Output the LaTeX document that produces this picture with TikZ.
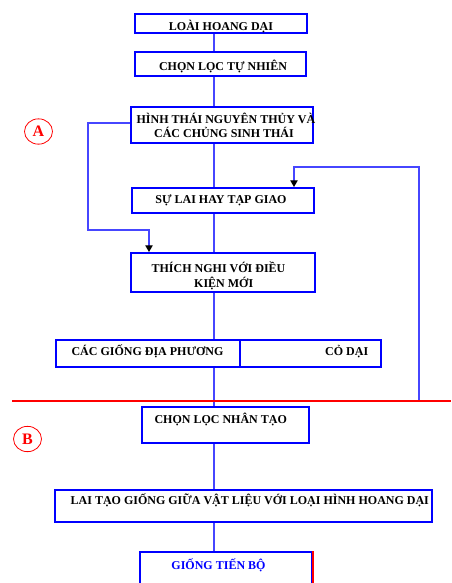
\documentclass[tikz,border=0pt]{standalone}
\usepackage{fontspec}
\setmainfont{Liberation Serif}
\usetikzlibrary{arrows.meta,calc,shapes.geometric}
\definecolor{boxblue}{RGB}{0,0,255}
\definecolor{linkblue}{RGB}{70,70,255}
\definecolor{cutred}{RGB}{255,0,0}

\begin{document}
\begin{tikzpicture}[x=0.75pt,y=0.75pt,yscale=-1,xscale=1,
  box/.style={draw=boxblue,line width=1.5pt,inner sep=0pt},
  lbl/.style={anchor=base,inner sep=0.75pt,align=center,font=\bfseries\fontsize{9}{10.5}\selectfont},
  link/.style={draw=linkblue,line width=0.9pt},
  tip/.style={-{Triangle[width=5.5pt,length=5pt,color=black]}},
  cut/.style={draw=cutred,line width=1.2pt},
  tag/.style={ellipse,draw=cutred,line width=0.6pt,text=cutred,inner sep=0pt,
    minimum width=21pt,minimum height=19pt,font=\bfseries\fontsize{12}{12}\selectfont}]
\useasboundingbox (0,0) rectangle (451,583);
\clip (0,0) rectangle (451,583);

%Shapes: boxes
\node[box,minimum width=129pt,minimum height=14.25pt] (b1) at (221,23.5) {};
\node[box,minimum width=128.25pt,minimum height=18pt] (b2) at (220.5,64) {};
\node[box,minimum width=136.5pt,minimum height=27pt] (b3) at (222,125) {};
\node[box,minimum width=136.5pt,minimum height=18.75pt] (b4) at (223,200.5) {};
\node[box,minimum width=138pt,minimum height=29.25pt] (b5) at (223,272.5) {};
\node[box,minimum width=138pt,minimum height=20.25pt] (b6a) at (148,353.5) {};
\node[box,minimum width=105.75pt,minimum height=20.25pt] (b6b) at (310.5,353.5) {};
\node[box,minimum width=125.25pt,minimum height=27pt] (b7) at (225.5,425) {};
\node[box,minimum width=282.75pt,minimum height=24pt] (b8) at (243.5,506) {};
\node[box,minimum width=129pt,minimum height=35.25pt] (b9) at (226,575.5) {};
\draw[cut,line width=1.5pt] (b9.north east) -- (b9.south east);

% Text Node
\node[lbl] (t1) at (221,30) {LOÀI HOANG DẠI};
\node[lbl] (t2) at (223,70) {CHỌN LỌC TỰ NHIÊN};
\node[lbl] (t3a) at (226,123.3) {HÌNH THÁI NGUYÊN THỦY VÀ};
\node[lbl] (t3b) at (224,137.7) {CÁC CHỦNG SINH THÁI};
\node[lbl] (t4) at (221,203) {SỰ LAI HAY TẠP GIAO};
\node[lbl] (t5a) at (218.5,272) {THÍCH NGHI VỚI ĐIỀU};
\node[lbl] (t5b) at (223.7,287) {KIỆN MỚI};
\node[lbl] (t6a) at (147.5,355) {CÁC GIỐNG ĐỊA PHƯƠNG};
\node[lbl] (t6b) at (346.7,355) {CỎ DẠI};
\node[lbl] (t7) at (220.7,423) {CHỌN LỌC NHÂN TẠO};
\node[lbl] (t8) at (249.8,504) {LAI TẠO GIỐNG GIỮA VẬT LIỆU VỚI LOẠI HÌNH HOANG DẠI};
\node[lbl,text=boxblue] (t9) at (218.5,569) {GIỐNG TIẾN BỘ};

% Tags
\node[tag] (tagA) at (38.5,131.5) {A};
\node[tag] (tagB) at (27.5,439) {B};

%Straight Lines: main flow
\coordinate (spine) at (214,0);
\draw[link] (b1.south -| spine) -- (b2.north -| spine);
\draw[link] (b2.south -| spine) -- (b3.north -| spine);
\draw[link] (b3.south -| spine) -- (b4.north -| spine);
\draw[link] (b4.south -| spine) -- (b5.north -| spine);
\draw[link] (b5.south -| spine) -- (b6a.north -| spine);
\draw[link] (b6a.south -| spine) -- (b7.north -| spine);
\draw[link] (b7.south -| spine) -- (b8.north -| spine);
\draw[link] (b8.south -| spine) -- (b9.north -| spine);

%Straight Lines: side loops
\coordinate (lft) at (88,230);
\draw[link,tip] ([yshift=-1.5pt]b3.west) -| (lft) -| ($(b5.north west)+(19,0)$);
\coordinate (fbk) at (419,401);
\coordinate (rgt) at (419,167);
\draw[link,tip] (fbk) -- (rgt) -| ($(b4.north west)+(163,0)$);

%Straight Lines: divider
\coordinate (cutL) at (12,401);
\coordinate (cutR) at (451,401);
\draw[cut] (cutL) -- (cutR);

\end{tikzpicture}
\end{document}
